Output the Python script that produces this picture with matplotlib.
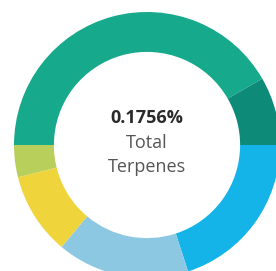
import matplotlib
matplotlib.use("Agg")
import matplotlib.pyplot as plt

labels = ["Terpene A", "Terpene B", "Terpene C", "Terpene D", "Terpene E", "Terpene F"]
values = [41.7, 8.3, 20.0, 16.1, 10.0, 3.9]
colors = ["#16a98b", "#0e8a78", "#14b4e8", "#8cc8e2", "#f0d43c", "#b8cf5c"]
total_text = "0.1756%"
line2 = "Total"
line3 = "Terpenes"

W, H = 276, 271
fig = plt.figure(figsize=(W / 100, H / 100), dpi=100)
ax = fig.add_axes([0, 0, 1, 1])
cx, cy, R = 147, 145, 133

ax.pie(values, colors=colors, startangle=180, counterclock=False, radius=1.0,
       wedgeprops=dict(width=0.3, edgecolor="none"))
ax.set_xlim(-cx / R, (W - cx) / R)
ax.set_ylim(-(H - cy) / R, cy / R)
ax.set_aspect("equal")
ax.axis("off")

ax.text(0, 0.20, total_text, ha="center", va="center", fontsize=13,
        fontweight="bold", color="#2a2a2a", family="Open Sans")
ax.text(0, 0.015, line2, ha="center", va="center", fontsize=13,
        color="#555555", family="Open Sans")
ax.text(0, -0.165, line3, ha="center", va="center", fontsize=13,
        color="#555555", family="Open Sans")

fig.savefig("out.png", dpi=100)
